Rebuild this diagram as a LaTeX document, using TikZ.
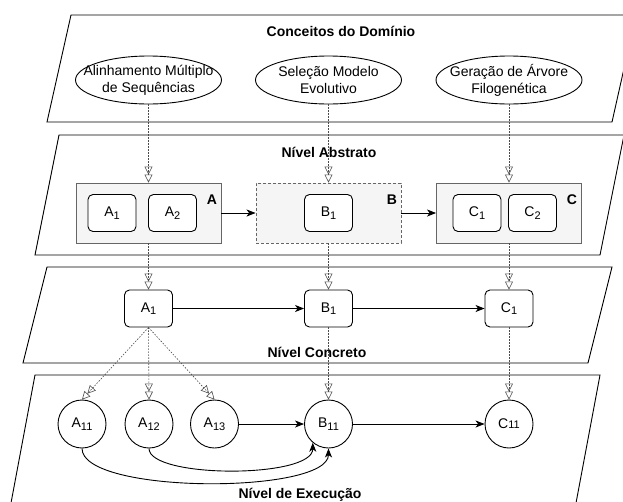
\documentclass[tikz,border=0pt]{standalone}
\usepackage{fontspec}
\setmainfont{Liberation Sans}
\usetikzlibrary{positioning,shapes.geometric,arrows.meta}
\definecolor{groupFill}{HTML}{F5F5F5}
\definecolor{groupLine}{HTML}{666666}
\newcommand\diagramFont{\fontsize{14pt}{17pt}\selectfont}
\newcommand\indexFont{\fontsize{11pt}{12pt}\selectfont}
\newcommand\layerSkew{24}
\newcommand\layerWidth{565}
\newcommand{\taskName}[2]{#1\raisebox{-2.5pt}{\indexFont #2}}
\newcommand{\runName}[2]{#1{\indexFont #2}}
\tikzset{
		every node/.style = {font=\diagramFont},
		layerStyle/.style = {draw, line width=0.9pt, fill=white},
		layerTitle/.style = {font=\diagramFont\bfseries, inner sep=0pt},
		concept/.style =    {ellipse, draw, line width=0.9pt, minimum width=146pt, minimum height=48pt, inner sep=0pt},
		conceptText/.style = {align=center, inner sep=0pt},
		group/.style =      {draw=groupLine, fill=groupFill, line width=0.9pt, minimum width=145pt, minimum height=60pt, inner sep=0pt},
		groupDashed/.style = {group, dash pattern=on 3pt off 2pt},
		groupTag/.style =   {font=\diagramFont\bfseries, inner sep=0pt},
		task/.style =       {draw, fill=white, rounded corners=5pt, line width=0.9pt, minimum width=48pt, minimum height=37pt, inner sep=0pt},
		run/.style =        {circle, draw, line width=0.9pt, minimum size=48pt, inner sep=0pt},
		refine/.style =     {draw=black!70, line width=0.6pt, dash pattern=on 1.5pt off 1.5pt,
		                     -{Triangle[open,length=8pt,width=8pt,sep=0pt]Triangle[open,length=8pt,width=8pt]}},
		flow/.style =       {line width=0.9pt, -{Stealth[length=9pt,width=7pt,inset=2.5pt]}}
}
\newcommand{\drawLayer}[3]{
    % #1 left x at the bottom, #2 top y, #3 bottom y
    \draw[layerStyle] (#1,#3) -- ({#1+\layerSkew},#2) -- ({#1+\layerSkew+\layerWidth},#2) -- ({#1+\layerWidth},#3) -- cycle;
}

\begin{document}
\begin{tikzpicture}[x=1pt, y=-1pt]
  \clip (0,0) rectangle (623,501);

  % Draw the four layers
  \foreach \lx/\ltop/\lbot in {47/15/122, 35/135/255, 23/267/363, 11/375/503}
    {\drawLayer{\lx}{\ltop}{\lbot}}

  \node [layerTitle] (titleDomain)   at (341,31)  {Conceitos do Domínio};
  \node [layerTitle] (titleConcrete) at (317,352) {Nível Concreto};
  \node [layerTitle] (titleRun)      at (300,495) {Nível de Execução};

  % Draw domain concepts
  \node [concept, label={[conceptText]center:Alinhamento Múltiplo\\de Sequências}] (conceptA) at (148.5,80) {};
  \node [concept, label={[conceptText]center:Seleção Modelo\\Evolutivo}]             (conceptB) at (328.5,80) {};
  \node [concept, label={[conceptText]center:Geração de Árvore\\Filogenética}]       (conceptC) at (509,80) {};

  % Draw abstract groups and their tasks
  \node [group]       (groupA) at (148.5,213) {};
  \node [groupDashed] (groupB) at (328.5,213) {};
  \node [group]       (groupC) at (509,213) {};
  \node [task] (absA1) at (112,213)   {\taskName{A}{1}};
  \node [task] (absA2) at (172.5,213) {\taskName{A}{2}};
  \node [task] (absB1) at (328.5,213) {\taskName{B}{1}};
  \node [task] (absC1) at (477,213)   {\taskName{C}{1}};
  \node [task] (absC2) at (532.5,213) {\taskName{C}{2}};
  \node [groupTag] (tagA) at (212,200) {A};
  \node [groupTag] (tagB) at (392,200) {B};
  \node [groupTag] (tagC) at (572,200) {C};

  % Draw concrete tasks
  \foreach \col/\x in {A/148.5, B/328.5, C/509}
    {\node [task] (concrete\col) at (\x,308.5) {\taskName{\col}{1}};}

  % Draw execution instances
  \node [run] (execA11) at (82,424)    {\taskName{A}{11}};
  \node [run] (execA12) at (149,424)   {\taskName{A}{12}};
  \node [run] (execA13) at (214.5,424) {\taskName{A}{13}};
  \node [run] (execB11) at (328.5,424) {\taskName{B}{11}};
  \node [run] (execC11) at (509,424)   {\runName{C}{11}};

  % Refinement links between layers
  \foreach \col in {A,B,C} {
    \draw [refine] (concept\col) -- (group\col);
    \draw [refine] (group\col) -- (concrete\col);
  }
  \foreach \i in {11,12,13}
    {\draw [refine] (concreteA.south) -- (execA\i.north);}
  \draw [refine] (concreteB) -- (execB11);
  \draw [refine] (concreteC) -- (execC11);

  % Title drawn over the link that crosses it
  \node [layerTitle] (titleAbstract) at (329,152) {Nível Abstrato};

  % Control flow
  \draw [flow] (groupA) -- (groupB);
  \draw [flow] (groupB) -- (groupC);
  \draw [flow] (concreteA) -- (concreteB);
  \draw [flow] (concreteB) -- (concreteC);
  \draw [flow] (execA13) -- (execB11);
  \draw [flow] (execB11) -- (execC11);
  \draw [flow] (execA11.south) .. controls +(0,46) and +(0,46) .. (execB11.south);
  \draw [flow] (execA12.south) .. controls +(0,30) and +(0,36) .. (execB11.-130);
\end{tikzpicture}
\end{document}
